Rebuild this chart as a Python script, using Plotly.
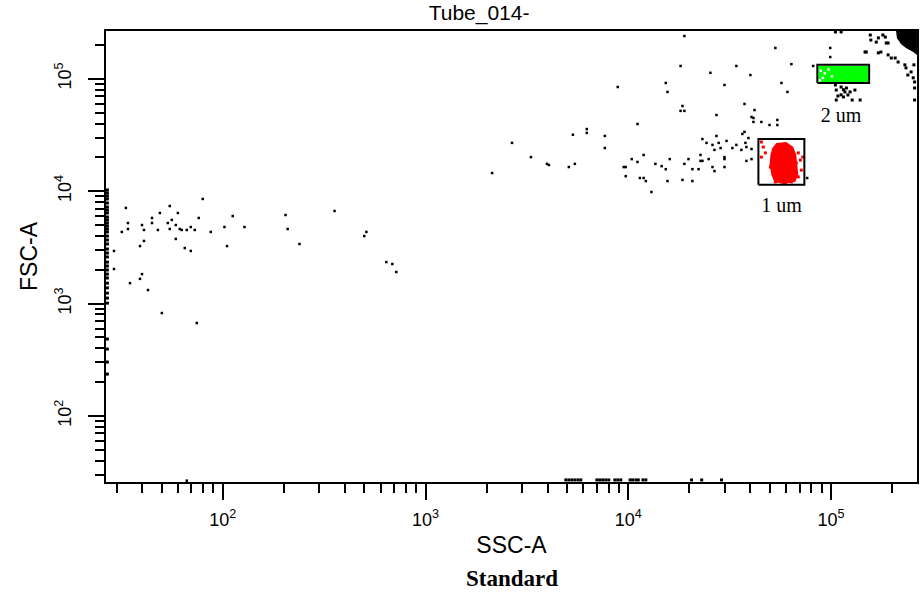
import plotly.graph_objects as go

# scattered events (SSC-A, FSC-A)
left_ssc = [33.3, 31.8, 34.1, 34.1, 29.1, 29.1, 34.9, 39.1, 40.0, 40.9, 40.9, 39.1, 40.0, 42.8,
            44.8, 44.8, 47.9, 49.0, 50.1, 53.6, 54.8, 54.8, 56.1, 58.7, 60.1, 58.7, 61.4, 62.8,
            65.0, 66.5, 69.6, 69.6, 72.8, 74.5, 76.2, 79.7, 87.3, 102, 105, 112, 128, 204, 209,
            239, 356, 499, 511, 641, 686, 718, 66.5]
left_fsc = [7100, 4340, 5210, 4610, 2940, 2030, 1520, 3250, 5000, 4520, 3610, 1660, 1830, 1320,
            5780, 5210, 4520, 6400, 824, 5210, 7380, 4610, 5550, 5000, 6400, 3760, 4610, 4520,
            3120, 4520, 4800, 2940, 4520, 672, 5780, 8530, 4340, 4800, 3250, 6010, 4800, 6140, 4610,
            3390, 6670, 3990, 4340, 2340, 2250, 1910, 26.6]

# events piled on the SSC-A minimum
edge_ssc_value = 27.0
edge_fsc = [10250, 9640, 9060, 8530, 7850, 7230, 6800, 6400, 5890, 5550, 5210, 4900, 4610, 4340,
            3990, 3680, 3390, 3060, 2820, 2600, 2340, 2160, 1990, 1830, 1690, 1520, 1380, 1240,
            1120, 1010, 484, 394, 302, 236]

# events piled on the FSC-A minimum
bottom_fsc_value = 27.0
bottom_ssc = [4920, 5090, 5270, 5450, 5640, 5830, 7000, 7230, 7480, 7740, 8010, 8580, 8870, 9180,
              10200, 10500, 10900, 11200, 11800, 12200, 20500, 23000, 28800]

mid_ssc = [2130, 2670, 3310, 3970, 4060, 5090, 5450, 6240, 6240, 7660, 7660, 8870, 9490, 9710,
           9710, 10400, 11100, 11100, 11400, 11900, 11900, 12200, 13000, 13600, 14600, 15300,
           15600, 15300, 15600, 16000, 18100, 18100, 18500, 18900, 18500, 18900, 18900, 19800,
           20700, 20700, 22200, 22700, 22700, 23200, 23200, 24300, 24900, 25400, 26000, 26000,
           26600, 26600, 27200, 27200, 27900, 28500, 29800, 29800, 29800, 29800, 30500, 32600,
           34100, 34100, 36100, 36500, 37400, 37400, 37800, 38200, 38200, 39100, 40500, 40500,
           40500, 41400, 41400, 40000, 41900, 45300, 49700, 53100, 54300, 54300, 56900, 60900,
           63700, 76200, 81600, 99000, 99000, 5330]
mid_fsc = [14500, 26900, 20100, 17500, 17100, 16400, 17500, 35700, 33000, 31000, 24200, 84500,
           16400, 16400, 13600, 19300, 39600, 18200, 13100, 21000, 13100, 12300, 9840, 17500,
           16700, 91800, 76400, 15700, 12300, 19300, 130000, 51800, 57300, 51800, 12600, 17500,
           240000, 19300, 15700, 12300, 15700, 21000, 18600, 18600, 29100, 26900, 19300, 113000,
           25800, 16400, 23300, 15100, 47600, 31000, 26900, 24200, 88100, 20100, 19300, 16400,
           28000, 24200, 130000, 25800, 23300, 32300, 33700, 59700, 26900, 24700, 18600, 29700,
           45700, 23700, 19300, 44800, 41300, 108000, 52700, 41300, 38800, 188000, 43000, 38800,
           91800, 76400, 135000, 13100, 130000, 188000, 156000, 31800]

# tail below the 2 um population and the saturated corner
upper_ssc = [105000, 106000, 112000, 119000, 124000, 108000, 115000, 121000, 127000, 139000,
             106000, 117000, 131000, 112000, 115000,
             157000, 167000, 171000, 185000, 191000, 176000, 191000, 198000, 207000, 214000,
             231000, 234000, 239000, 248000, 254000, 258000, 258000, 258000, 256000, 156000,
             147000, 149000, 180000, 187000, 171000, 112000, 105000]
upper_fsc = [88100, 79400, 84500, 82800, 76400, 70300, 68900, 71800, 64700, 64700,
             64700, 76400, 79400, 72000, 80000,
             221000, 212000, 231000, 235000, 208000, 173000, 163000, 153000, 153000, 141000,
             133000, 125000, 108000, 115000, 102000, 93700, 82800, 64700, 133000, 245000,
             173000, 173000, 245000, 208000, 170000, 261000, 261000]

corner_ssc = [209000, 265000, 265000, 254000, 234000, 221000, 211000]
corner_fsc = [268000, 268000, 163000, 173000, 188000, 204000, 231000]

# 1 um population (red)
red_blob_ssc = [53700, 60100, 65100, 67300, 68100, 68900, 66500, 58100, 52500, 50800, 49700, 50200, 51300]
red_blob_fsc = [26900, 27400, 24700, 21000, 17100, 13900, 12100, 11600, 12100, 13900, 17100, 21000, 24200]
red_ssc = [45300, 46300, 47400, 45300, 50200, 68900, 70500, 67300, 71300, 66500, 68900, 53100, 59500, 63700, 72500]
red_fsc = [27400, 24700, 21900, 20100, 16400, 21900, 18900, 17800, 15400, 14500, 13400, 12100, 11800, 12100, 20100]

# 2 um population (green)
green_ssc = [86500, 152000, 152000, 86500]
green_fsc = [130000, 130000, 93700, 93700]
white_ssc = [89000, 93000, 97000, 91000, 101000, 88000]
white_fsc = [118000, 112000, 121000, 102000, 105000, 97000]

# gates and their names
gate_1um_ssc = [43800, 73800]
gate_1um_fsc = [11400, 29100]
gate_2um_ssc = [85500, 154000]
gate_2um_fsc = [91800, 133000]
gate_labels = ['1 um', '2 um']
label_ssc = [56900, 112000]
label_fsc = [7230, 45700]

tick_vals = [100, 1000, 10000, 100000]
tick_text = ['10<sup>2</sup>', '10<sup>3</sup>', '10<sup>4</sup>', '10<sup>5</sup>']

dot = dict(color='black', size=2.5, symbol='square', line=dict(width=0))

fig = go.Figure()
fig.add_trace(go.Scatter(x=left_ssc, y=left_fsc, mode='markers', marker=dot))
fig.add_trace(go.Scatter(x=[edge_ssc_value] * len(edge_fsc), y=edge_fsc, mode='markers',
                         marker=dict(dot, size=3)))
fig.add_trace(go.Scatter(x=bottom_ssc, y=[bottom_fsc_value] * len(bottom_ssc), mode='markers',
                         marker=dict(dot, size=3)))
fig.add_trace(go.Scatter(x=mid_ssc, y=mid_fsc, mode='markers', marker=dot))
fig.add_trace(go.Scatter(x=upper_ssc, y=upper_fsc, mode='markers', marker=dict(dot, size=3)))
fig.add_trace(go.Scatter(x=corner_ssc, y=corner_fsc, mode='lines', fill='toself',
                         fillcolor='black', line=dict(width=0)))

fig.add_trace(go.Scatter(x=red_blob_ssc, y=red_blob_fsc, mode='lines', fill='toself',
                         fillcolor='#ff0000', line=dict(width=0)))
fig.add_trace(go.Scatter(x=red_ssc, y=red_fsc, mode='markers',
                         marker=dict(color='#ff0000', size=3, symbol='square', line=dict(width=0))))
fig.add_trace(go.Scatter(x=green_ssc, y=green_fsc, mode='lines', fill='toself',
                         fillcolor='#00ff00', line=dict(width=0)))
fig.add_trace(go.Scatter(x=white_ssc, y=white_fsc, mode='markers',
                         marker=dict(color='white', size=2.5, symbol='square', line=dict(width=0))))

for gx, gy in [(gate_1um_ssc, gate_1um_fsc), (gate_2um_ssc, gate_2um_fsc)]:
    fig.add_trace(go.Scatter(x=[gx[0], gx[1], gx[1], gx[0], gx[0]],
                             y=[gy[0], gy[0], gy[1], gy[1], gy[0]],
                             mode='lines', line=dict(color='black', width=2)))

fig.add_trace(go.Scatter(x=label_ssc, y=label_fsc, mode='text', text=gate_labels,
                         textfont=dict(family='Liberation Serif', size=20, color='black')))

axis_common = dict(
    type='log', showgrid=False, zeroline=False,
    showline=True, linecolor='black', linewidth=2, mirror=True,
    ticks='outside', ticklen=16, tickwidth=2, tickcolor='black',
    tickvals=tick_vals, ticktext=tick_text,
    tickfont=dict(family='Liberation Sans', size=18, color='black'),
    minor=dict(ticks='outside', ticklen=9, tickwidth=2, tickcolor='black', dtick='D1', showgrid=False),
)

fig.update_xaxes(axis_common, range=[1.4245, 5.4235], ticklabelstandoff=4,
                 title=dict(text='SSC-A', standoff=8,
                            font=dict(family='Liberation Sans', size=23, color='black')))
fig.update_yaxes(axis_common, range=[1.413, 5.425], tickangle=-90, ticklabelstandoff=10,
                 title=dict(text='FSC-A', standoff=8,
                            font=dict(family='Liberation Sans', size=23, color='black')))

fig.update_layout(
    width=921, height=592,
    margin=dict(l=106, r=2, t=31, b=110),
    plot_bgcolor='white', paper_bgcolor='white',
    showlegend=False,
    title=dict(text='Tube_014-', x=0.46, xref='paper', xanchor='center',
               y=1 - 13 / 592, yanchor='middle',
               font=dict(family='Liberation Sans', size=21, color='black')),
    annotations=[dict(text='<b>Standard</b>', xref='paper', yref='paper', x=0.5, y=-0.213,
                      xanchor='center', yanchor='middle', showarrow=False,
                      font=dict(family='Liberation Serif', size=23, color='black'))],
)

fig.write_html('out.html', config={'displayModeBar': False},
               post_script="document.body.style.margin = '0';")
